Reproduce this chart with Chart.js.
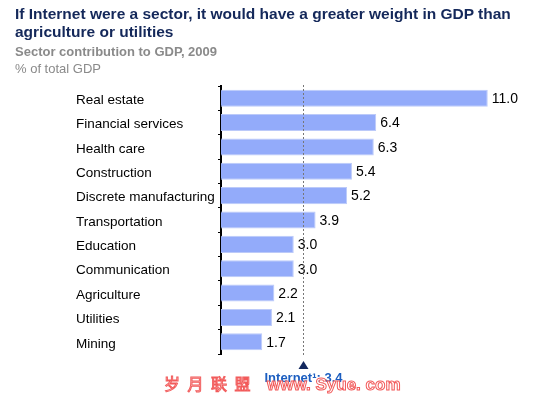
<!DOCTYPE html>
<html>
<head>
<meta charset="utf-8">
<script src="https://cdn.jsdelivr.net/npm/chart.js@4/dist/chart.umd.min.js"></script>
<style>
  html, body { margin: 0; padding: 0; background: #fff; }
  #wrap { position: relative; width: 540px; height: 395px; overflow: hidden; font-family: Arial, "Liberation Sans", sans-serif; }
  #chart { position: absolute; left: 0; top: 0; }
  .title { position: absolute; left: 15px; top: 5px; font-size: 15.5px; font-weight: bold; color: #14285a; line-height: 18px; }
  .sub { position: absolute; left: 15px; top: 44px; font-size: 13px; font-weight: bold; color: #8a8a8a; }
  .unit { position: absolute; left: 15px; top: 61px; font-size: 13px; color: #8a8a8a; }
</style>
</head>
<body>
<div id="wrap">
  <canvas id="chart" width="540" height="395"></canvas>
  <div class="title">If Internet were a sector, it would have a greater weight in GDP than<br>agriculture or utilities</div>
  <div class="sub">Sector contribution to GDP, 2009</div>
  <div class="unit">% of total GDP</div>
</div>
<script>
// values
const sectors = ['Real estate', 'Financial services', 'Health care', 'Construction',
  'Discrete manufacturing', 'Transportation', 'Education', 'Communication',
  'Agriculture', 'Utilities', 'Mining'];
const gdpShare = [11.0, 6.4, 6.3, 5.4, 5.2, 3.9, 3.0, 3.0, 2.2, 2.1, 1.7];
const internetLabel = 'Internet\u00b9: 3.4';
const internetShare = 3.4;
const watermarkCn = ['岁', '月', '联', '盟'];
const watermarkUrl = 'www. Syue. com';

const FONT = 'Arial, "Liberation Sans", sans-serif';

// bar value labels
const valueLabels = {
  id: 'valueLabels',
  afterDatasetsDraw(chart) {
    const ctx = chart.ctx;
    const meta = chart.getDatasetMeta(0);
    ctx.save();
    ctx.font = '14px ' + FONT;
    ctx.fillStyle = '#000';
    ctx.textBaseline = 'middle';
    ctx.textAlign = 'left';
    meta.data.forEach((bar, i) => {
      ctx.fillText(gdpShare[i].toFixed(1), bar.x + 4, bar.y + 1);
    });
    ctx.restore();
  }
};

// internet reference line + marker + label, then the watermark
const internetMarker = {
  id: 'internetMarker',
  afterDraw(chart) {
    const ctx = chart.ctx;
    const x = Math.round(chart.scales.x.getPixelForValue(internetShare)) + 0.5;
    const top = chart.chartArea.top - 1;
    const bottom = chart.chartArea.bottom + 3;
    ctx.save();
    ctx.strokeStyle = '#777';
    ctx.lineWidth = 1;
    ctx.setLineDash([2, 2]);
    ctx.beginPath();
    ctx.moveTo(x, top);
    ctx.lineTo(x, bottom);
    ctx.stroke();
    ctx.setLineDash([]);
    ctx.fillStyle = '#13285e';
    ctx.beginPath();
    ctx.moveTo(x, bottom + 4);
    ctx.lineTo(x - 5, bottom + 12);
    ctx.lineTo(x + 5, bottom + 12);
    ctx.closePath();
    ctx.fill();
    ctx.font = 'bold 13px ' + FONT;
    ctx.fillStyle = '#1c5ec0';
    ctx.textAlign = 'center';
    ctx.textBaseline = 'middle';
    ctx.fillText(internetLabel, x, bottom + 21);

    // watermark
    ctx.strokeStyle = '#f25a5a';
    ctx.fillStyle = 'rgba(255,255,255,0.75)';
    ctx.textAlign = 'left';
    ctx.lineWidth = 1;
    ctx.font = '16px "Noto Sans CJK SC", sans-serif';
    watermarkCn.forEach((ch, i) => {
      ctx.fillText(ch, 164 + i * 23.5, 384);
      ctx.strokeText(ch, 164 + i * 23.5, 384);
    });
    ctx.font = 'bold 17px ' + FONT;
    ctx.fillText(watermarkUrl, 267, 385);
    ctx.strokeText(watermarkUrl, 267, 385);
    ctx.restore();
  }
};

new Chart(document.getElementById('chart'), {
  type: 'bar',
  data: {
    labels: sectors,
    datasets: [{
      data: gdpShare,
      backgroundColor: '#93abfa',
      borderColor: '#bccaf9',
      borderWidth: 1,
      borderSkipped: 'left',
      categoryPercentage: 1,
      barPercentage: 0.7
    }]
  },
  options: {
    indexAxis: 'y',
    responsive: false,
    animation: false,
    layout: { padding: { left: 76, right: 28, top: 86, bottom: 41 } },
    plugins: {
      legend: { display: false },
      tooltip: { enabled: false },
      title: { display: false }
    },
    scales: {
      x: {
        display: false,
        min: 0,
        max: 12
      },
      y: {
        afterFit(scale) { scale.width = 145; },
        border: { color: '#000', width: 2 },
        grid: { drawOnChartArea: false, drawTicks: true, tickLength: 3, color: '#000', offset: true },
        ticks: {
          crossAlign: 'far',
          padding: 4,
          labelOffset: 2,
          color: '#000',
          font: { family: FONT, size: 13.5 }
        }
      }
    }
  },
  plugins: [valueLabels, internetMarker]
});
</script>
</body>
</html>
